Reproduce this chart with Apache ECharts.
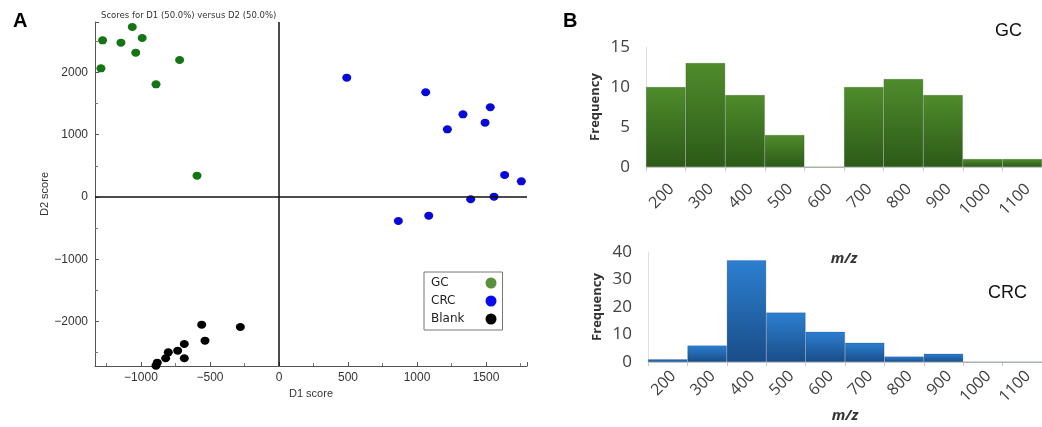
<!DOCTYPE html>
<html>
<head>
<meta charset="utf-8">
<script src="https://cdn.jsdelivr.net/npm/echarts@6/dist/echarts.min.js"></script>
<style>html,body{margin:0;padding:0;background:#fff}#c{width:1042px;height:427px}</style>
</head>
<body>
<div id="c"></div>
<script>
// ---- Panel A: score plot data (D1 score, D2 score) ----
const gcPoints = [[-1278,2517],[-1145,2479],[-1063,2731],[-991,2554],[-1038,2318],[-1290,2067],[-720,2201],[-891,1810],[-594,342]];
const crcPoints = [[491,1917],[1063,1682],[1333,1328],[1531,1441],[1493,1194],[1220,1087],[1635,353],[1756,252],[1389,-37],[1558,5],[1085,-300],[865,-386]];
const blankPoints = [[-560,-2051],[-280,-2088],[-536,-2308],[-686,-2361],[-734,-2469],[-802,-2495],[-686,-2591],[-821,-2591],[-882,-2662],[-891,-2710]];
const groupNames = ['GC','CRC','Blank'];
// ---- Panel B: histograms ----
const mzCategories = ['200','300','400','500','600','700','800','900','1000','1100'];
const gcFreq = [10,13,9,4,0,10,11,9,1,1];
const crcFreq = [1,6,37,18,11,7,2,3,0,0];

const chart = echarts.init(document.getElementById('c'), null, {renderer:'canvas'});
const sans = 'Liberation Sans, Arial, sans-serif';
const hf = 'Open Sans, sans-serif';

function grad(top, bottom){
  return new echarts.graphic.LinearGradient(0,0,0,1,[{offset:0,color:top},{offset:1,color:bottom}]);
}

const histX = (gi, nameGap, margin) => ({
  type:'category', gridIndex:gi, data:mzCategories,
  name:'m/z', nameLocation:'middle', nameGap:nameGap,
  nameTextStyle:{fontFamily:hf,fontSize:15,fontWeight:'bold',fontStyle:'italic',color:'#333'},
  axisLine:{lineStyle:{color:'#d0d0d0',width:1}},
  axisTick:{show:true,length:4,lineStyle:{color:'#c8c8c8'}},
  axisLabel:{rotate:45,fontFamily:hf,fontSize:16,color:'#404040',margin:margin,verticalAlign:'top'}
});
const histY = (gi, max, interval) => ({
  type:'value', gridIndex:gi, min:0, max:max, interval:interval,
  name:'Frequency', nameLocation:'middle', nameGap:44,
  nameTextStyle:{fontFamily:hf,fontSize:13,fontWeight:'bold',color:'#333'},
  axisLine:{show:true,lineStyle:{color:'#e0e0e0'}},
  axisTick:{show:false},
  splitLine:{show:false},
  axisLabel:{fontFamily:hf,fontSize:17,color:'#404040',margin:16}
});

const scoreAxis = (extra) => Object.assign({
  type:'value', gridIndex:0, nameLocation:'middle',
  nameTextStyle:{fontFamily:sans,fontSize:11,color:'#333'},
  axisLine:{onZero:false,lineStyle:{color:'#555',width:1}},
  axisTick:{inside:true,length:4,lineStyle:{color:'#555'}},
  minorTick:{show:true,splitNumber:2,length:3,lineStyle:{color:'#777'}},
  splitLine:{show:false}
}, extra);

const option = {
  animation:false,
  backgroundColor:'#fff',
  title:[
    {text:'A',left:8,top:6,textStyle:{fontFamily:sans,fontSize:20,fontWeight:'bold',color:'#000'}},
    {text:'B',left:558,top:6,textStyle:{fontFamily:sans,fontSize:20,fontWeight:'bold',color:'#000'}},
    {text:'GC',left:990,top:17,textStyle:{fontFamily:sans,fontSize:18,fontWeight:'normal',color:'#111'}},
    {text:'CRC',left:983,top:279,textStyle:{fontFamily:sans,fontSize:18,fontWeight:'normal',color:'#111'}},
    {text:'Scores for D1 (50.0%) versus D2 (50.0%)',left:96,top:6,textStyle:{fontFamily:'DejaVu Sans',fontSize:8.5,fontWeight:'normal',color:'#333'}}
  ],
  legend:{
    show:true, orient:'vertical', left:424, top:272, align:'right',
    borderColor:'#777', borderWidth:1, padding:[5,6,5,7],
    itemWidth:12, itemHeight:11, itemGap:6, icon:'circle',
    formatter:'{t|{name}}',
    textStyle:{fontFamily:'DejaVu Sans',fontSize:12,color:'#222',
      rich:{t:{width:49,align:'left',fontFamily:'DejaVu Sans',fontSize:12,color:'#222'}}},
    data:[
      {name:groupNames[0],itemStyle:{color:'#5a8f3c'}},
      {name:groupNames[1],itemStyle:{color:'#0a0af0'}},
      {name:groupNames[2],itemStyle:{color:'#000'}}
    ]
  },
  grid:[
    {left:95,top:22,width:432,height:344,containLabel:false},
    {left:646,top:47,width:400,height:120,containLabel:false},
    {left:648,top:252,width:400,height:110,containLabel:false}
  ],
  xAxis:[
    scoreAxis({min:-1333,max:1797,name:'D1 score',nameGap:20,
     axisLabel:{showMinLabel:false,showMaxLabel:false,fontFamily:sans,fontSize:12,color:'#333',margin:6,
       formatter:v=>(v%500===0? String(v).replace('-','\u2212'):'')}}),
    histX(1, 84, 14),
    histX(2, 31, 6)
  ],
  yAxis:[
    scoreAxis({min:-2715,max:2811,name:'D2 score',nameGap:42,
     axisLabel:{showMinLabel:false,showMaxLabel:false,fontFamily:sans,fontSize:12,color:'#333',margin:7,
       formatter:v=>(v%1000===0? String(v).replace('-','\u2212'):'')}}),
    histY(1, 15, 5),
    histY(2, 40, 10)
  ],
  series:[
    {name:groupNames[0],type:'scatter',xAxisIndex:0,yAxisIndex:0,data:gcPoints,symbolSize:[9,8],clip:false,
     itemStyle:{color:'#137513',opacity:1},
     markLine:{silent:true,symbol:['none','none'],label:{show:false},
       lineStyle:{color:'#111',width:1.5,type:'solid',opacity:1},
       data:[{xAxis:0},{yAxis:0}]}},
    {name:groupNames[1],type:'scatter',xAxisIndex:0,yAxisIndex:0,data:crcPoints,symbolSize:[9,8],clip:false,
     itemStyle:{color:'#0808d8',opacity:1}},
    {name:groupNames[2],type:'scatter',xAxisIndex:0,yAxisIndex:0,data:blankPoints,symbolSize:[9,8],clip:false,
     itemStyle:{color:'#000',opacity:1}},
    {type:'bar',xAxisIndex:1,yAxisIndex:1,data:gcFreq,barCategoryGap:'0%',
     itemStyle:{color:grad('#4f8c2c','#2c5a17'),borderColor:'rgba(30,60,15,0.35)',borderWidth:0.6}},
    {type:'bar',xAxisIndex:2,yAxisIndex:2,data:crcFreq,barCategoryGap:'0%',
     itemStyle:{color:grad('#2c7fd1','#1a4d88'),borderColor:'rgba(15,50,100,0.35)',borderWidth:0.6}}
  ]
};
chart.setOption(option);
</script>
</body>
</html>
